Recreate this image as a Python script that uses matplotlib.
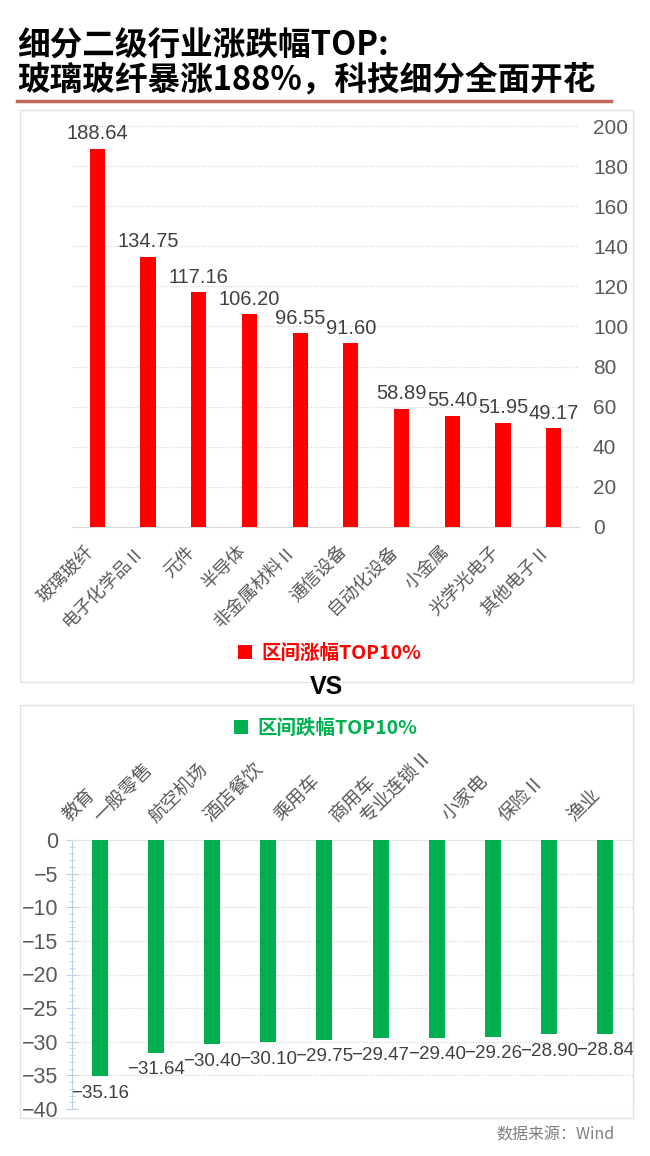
import numpy as np
import matplotlib
matplotlib.use('Agg')
import matplotlib.pyplot as plt
from matplotlib.patches import Rectangle
from matplotlib.lines import Line2D
from matplotlib.ticker import MultipleLocator

plt.rcParams['font.family'] = ['Noto Sans CJK SC', 'DejaVu Sans']

# data
up_names = ['玻璃玻纤', '电子化学品Ⅱ', '元件', '半导体', '非金属材料Ⅱ',
            '通信设备', '自动化设备', '小金属', '光学光电子', '其他电子Ⅱ']
up_values = [188.64, 134.75, 117.16, 106.20, 96.55, 91.60, 58.89, 55.40, 51.95, 49.17]
down_names = ['教育', '一般零售', '航空机场', '酒店餐饮', '乘用车',
              '商用车', '专业连锁Ⅱ', '小家电', '保险Ⅱ', '渔业']
down_values = [-35.16, -31.64, -30.40, -30.10, -29.75, -29.47, -29.40, -29.26, -28.90, -28.84]
up_ticks = list(range(0, 201, 20))

RED = '#FF0000'
GREEN = '#00B050'
GREY = '#595959'
NUM = ['Liberation Sans', 'DejaVu Sans']

W, H = 650, 1156
fig = plt.figure(figsize=(W / 100, H / 100), dpi=100)


def box(x0, y0, x1, y1):
    # pixel box (top-left origin) -> figure rect
    return [x0 / W, 1 - y1 / H, (x1 - x0) / W, (y1 - y0) / H]


def fx(x):
    return x / W


def fy(y):
    return 1 - y / H


def minus(v):
    return f'{v:.2f}'.replace('-', '\u2212')


# title
fig.text(fx(17), fy(46), '细分二级行业涨跌幅TOP:', fontsize=23.5, fontweight='bold',
         va='center', ha='left')
fig.text(fx(17), fy(80), '玻璃玻纤暴涨188%，科技细分全面开花', fontsize=23.5, fontweight='bold',
         va='center', ha='left')
fig.add_artist(Line2D([fx(17), fx(611)], [fy(101), fy(101)], color='#C0685C', lw=2.5))

# panel frames
for y0, y1 in [(110, 682), (705, 1118)]:
    fig.add_artist(Rectangle((fx(20), fy(y1)), (633 - 20) / W, (y1 - y0) / H,
                             fill=False, ec='#E2E2E2', lw=1, transform=fig.transFigure))

# ---- top chart: gainers
x = np.arange(len(up_values))
ax1 = fig.add_axes(box(72, 126, 579, 527))
bars1 = ax1.bar(x, up_values, width=0.3, color=RED, label='区间涨幅TOP10%', zorder=3)
ax1.set_xlim(-0.5, 9.5)
ax1.set_ylim(0, 200)
ax1.yaxis.tick_right()
ax1.set_yticks(up_ticks)
ax1.grid(axis='y', ls=':', color='#CFCFCF', lw=0.8, zorder=0)
for s in ['top', 'left', 'right']:
    ax1.spines[s].set_visible(False)
ax1.spines['bottom'].set_color('#D9D9D9')
ax1.tick_params(axis='y', length=0, pad=10, labelsize=15, labelcolor=GREY)
for lab in ax1.get_yticklabels():
    lab.set_fontfamily(NUM)
ax1.set_xticks(x)
ax1.set_xticklabels(up_names, rotation=45, ha='right', fontsize=13, color=GREY)
ax1.tick_params(axis='x', length=0, pad=11)
ax1.bar_label(bars1, fmt='%.2f', padding=4, fontsize=14.5, color='#404040', family=NUM)
ax1.legend(loc='center', bbox_to_anchor=(fx(330), fy(653)), bbox_transform=fig.transFigure,
           frameon=False, handlelength=0.7, handleheight=0.7, handletextpad=0.5,
           prop={'size': 14, 'weight': 'bold'}, labelcolor=RED)

fig.text(fx(326), fy(687), 'VS', fontsize=18, fontweight='bold', ha='center', va='center',
         family=NUM)

# ---- bottom chart: losers
ax2 = fig.add_axes(box(72, 840, 633, 1109))
bars2 = ax2.bar(x, down_values, width=0.285, color=GREEN, label='区间跌幅TOP10%', zorder=3)
ax2.set_xlim(-0.5, 9.5)
ax2.set_ylim(-40, 0)
ax2.yaxis.set_major_locator(MultipleLocator(5))
ax2.yaxis.set_minor_locator(MultipleLocator(1))
ax2.grid(axis='y', which='major', ls=':', color='#CFCFCF', lw=0.8, zorder=0)
for s in ['bottom', 'right']:
    ax2.spines[s].set_visible(False)
ax2.spines['top'].set_color('#DDE3EA')
ax2.spines['left'].set_color('#BFCFE3')
ax2.tick_params(axis='y', which='major', direction='inout', length=8, color='#BFCFE3',
                pad=6, labelsize=15.5, labelcolor=GREY)
ax2.tick_params(axis='y', which='minor', direction='inout', length=5, color='#BFCFE3')
for lab in ax2.get_yticklabels():
    lab.set_fontfamily(NUM)
ax2.xaxis.tick_top()
ax2.set_xticks(x)
ax2.set_xticklabels(down_names, rotation=45, ha='right', fontsize=13.5, color=GREY)
ax2.tick_params(axis='x', length=0, pad=10)
ax2.bar_label(bars2, fmt=minus, padding=6, fontsize=13.5, color='#404040', family=NUM)
ax2.legend(loc='center', bbox_to_anchor=(fx(326), fy(728)), bbox_transform=fig.transFigure,
           frameon=False, handlelength=0.7, handleheight=0.7, handletextpad=0.5,
           prop={'size': 14, 'weight': 'bold'}, labelcolor=GREEN)

fig.text(fx(615), fy(1135), '数据来源：Wind', ha='right', va='center', fontsize=11.5,
         color='#7F7F7F')

fig.savefig('out.png', dpi=100)
